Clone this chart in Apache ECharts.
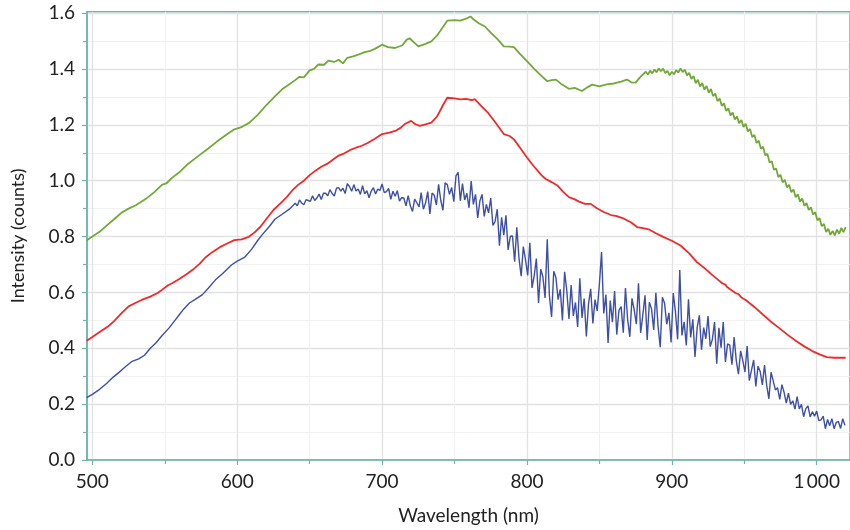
<!DOCTYPE html>
<html>
<head>
<meta charset="utf-8">
<script src="https://cdn.jsdelivr.net/npm/echarts@6/dist/echarts.min.js"></script>
<style>html,body{margin:0;padding:0;background:#fff;}#c{width:850px;height:530px;}</style>
</head>
<body>
<div id="c"></div>
<script>
// ---- data ----
var xMajorTicks = [500, 600, 700, 800, 900, 1000];
var xMinorTicks = [550, 650, 750, 850, 950];
var yMajorTicks = [0, 0.2, 0.4, 0.6, 0.8, 1.0, 1.2, 1.4, 1.6];
var yMinorTicks = [0.1, 0.3, 0.5, 0.7, 0.9, 1.1, 1.3, 1.5];

var greenSmooth = [[496,0.786],[500,0.80],[505,0.817],[510,0.84],[515,0.862],[520,0.885],[525,0.90],[530,0.912],[537,0.935],[543,0.96],[548,0.985],[551,0.99],[555,1.01],[560,1.03],[566,1.06],[573,1.088],[580,1.115],[586,1.14],[592,1.163],[598,1.184],[603,1.192],[608,1.206],[614,1.235],[620,1.27],[626,1.302],[631,1.327],[636,1.345],[640,1.36],[643,1.372],[646,1.37],[650,1.395],[653,1.40],[656,1.416],[660,1.415],[663,1.43],[667,1.425],[670,1.433],[673,1.42],[676,1.44],[680,1.445],[684,1.452],[688,1.46],[692,1.465],[695,1.472],[700,1.487],[704,1.478],[709,1.475],[714,1.485],[717,1.505],[719,1.51],[722,1.495],[725,1.481],[730,1.49],[734,1.499],[738,1.52],[742,1.55],[745,1.573],[750,1.575],[754,1.573],[758,1.58],[761,1.588],[763,1.578],[767,1.563],[771,1.552],[775,1.53],[780,1.505],[784,1.481],[788,1.48],[791,1.478],[795,1.455],[800,1.428],[805,1.40],[810,1.375],[814,1.356],[817,1.36],[820,1.362],[824,1.345],[829,1.329],[833,1.332],[838,1.321],[842,1.335],[845,1.344],[850,1.338],[855,1.345],[860,1.348],[865,1.355],[869,1.362],[872,1.352],[875,1.351],[878,1.37]];
var greenOscStart = 882, greenOscStep = 1.5;
var greenOsc = [1.390,1.380,1.394,1.384,1.398,1.388,1.402,1.392,1.401,1.385,1.393,1.377,1.390,1.381,1.396,1.387,1.402,1.389,1.397,1.377,1.386,1.364,1.375,1.349,1.361,1.337,1.350,1.326,1.339,1.315,1.328,1.303,1.312,1.285,1.294,1.268,1.277,1.250,1.259,1.233,1.244,1.219,1.230,1.206,1.217,1.192,1.204,1.176,1.185,1.156,1.164,1.135,1.143,1.114,1.122,1.091,1.096,1.065,1.070,1.039,1.044,1.013,1.021,0.994,1.003,0.976,0.985,0.959,0.968,0.941,0.951,0.925,0.936,0.910,0.920,0.895,0.905,0.879,0.887,0.858,0.866,0.837,0.845,0.816,0.828,0.806,0.820,0.804,0.825,0.810,0.831,0.816,0.834];

var redPts = [[496,0.427],[500,0.44],[505,0.458],[511,0.479],[515,0.497],[520,0.525],[525,0.55],[530,0.563],[534,0.573],[540,0.585],[545,0.598],[548,0.609],[552,0.625],[555,0.633],[560,0.648],[565,0.665],[569,0.68],[574,0.702],[578,0.725],[583,0.745],[588,0.762],[593,0.775],[598,0.787],[603,0.79],[608,0.799],[612,0.815],[616,0.835],[620,0.862],[625,0.895],[630,0.92],[634,0.94],[638,0.965],[642,0.985],[646,1.0],[650,1.02],[654,1.036],[658,1.05],[662,1.06],[666,1.075],[670,1.09],[674,1.098],[678,1.11],[682,1.118],[686,1.125],[690,1.135],[695,1.15],[700,1.167],[705,1.172],[709,1.178],[713,1.19],[716,1.204],[720,1.214],[723,1.202],[726,1.196],[730,1.202],[734,1.208],[738,1.23],[742,1.27],[745,1.297],[750,1.295],[754,1.291],[758,1.293],[762,1.288],[764,1.292],[768,1.27],[773,1.244],[778,1.21],[784,1.167],[788,1.16],[791,1.148],[795,1.12],[800,1.083],[805,1.05],[810,1.02],[813,1.006],[817,0.995],[821,0.983],[825,0.96],[829,0.941],[833,0.933],[836,0.925],[840,0.917],[844,0.917],[848,0.902],[853,0.888],[858,0.877],[862,0.873],[867,0.864],[872,0.85],[876,0.834],[880,0.83],[884,0.826],[889,0.812],[894,0.799],[900,0.785],[906,0.768],[912,0.74],[917,0.71],[923,0.685],[928,0.662],[932,0.645],[935,0.632],[937,0.628],[938,0.62],[940,0.612],[942,0.605],[944,0.598],[946,0.594],[948,0.582],[951,0.573],[957,0.548],[963,0.52],[968,0.497],[974,0.473],[980,0.448],[986,0.425],[992,0.405],[997,0.39],[1002,0.378],[1007,0.368],[1012,0.366],[1020,0.366]];

var blueSmooth = [[496,0.223],[500,0.235],[505,0.253],[510,0.275],[514,0.295],[518,0.312],[522,0.33],[527,0.352],[532,0.362],[536,0.375],[540,0.40],[544,0.42],[548,0.445],[553,0.473],[557,0.50],[560,0.52],[563,0.54],[567,0.562],[571,0.575],[576,0.592],[580,0.615],[585,0.645],[590,0.668],[596,0.698],[600,0.712],[605,0.725],[610,0.755],[614,0.785],[617,0.805],[622,0.835],[626,0.862],[631,0.88],[636,0.898]];
var blueNoisyStart = 640, blueNoisyStep = 1.5;
var blueNoisy = [
0.919,0.910,0.931,0.920,0.914,0.932,0.929,0.926,0.946,0.929,
0.938,0.952,0.933,0.955,0.955,0.946,0.968,0.954,0.945,0.973,
0.975,0.963,0.973,0.954,0.989,0.979,0.962,0.986,0.963,0.970,
0.951,0.982,0.953,0.964,0.939,0.963,0.975,0.952,0.970,0.965,
0.988,0.957,0.961,0.972,0.933,0.962,0.944,0.964,0.927,0.939,
0.938,0.910,0.946,0.910,0.890,0.934,0.921,0.906,0.957,0.898,
0.920,0.961,0.881,0.956,0.948,0.913,0.987,0.930,0.894,0.992,
0.986,0.951,0.976,0.925,1.017,1.030,0.928,0.990,0.931,0.955,
0.903,0.999,0.915,0.951,0.867,0.927,0.951,0.872,0.915,0.885,
0.938,0.840,0.854,0.898,0.767,0.869,0.805,0.876,0.752,0.801,
0.802,0.710,0.833,0.723,0.658,0.764,0.717,0.661,0.778,0.616,
0.660,0.721,0.562,0.683,0.656,0.580,0.790,0.588,0.512,0.676,
0.653,0.574,0.611,0.500,0.674,0.606,0.505,0.626,0.516,0.564,
0.476,0.651,0.509,0.578,0.442,0.559,0.613,0.489,0.574,0.534,
0.629,0.745,0.525,0.592,0.419,0.571,0.493,0.605,0.449,0.536,
0.549,0.456,0.616,0.503,0.441,0.579,0.538,0.486,0.633,0.455,
0.520,0.590,0.430,0.565,0.541,0.466,0.599,0.479,0.404,0.583,
0.561,0.486,0.527,0.421,0.598,0.531,0.432,0.680,0.446,0.495,
0.410,0.575,0.439,0.504,0.369,0.474,0.518,0.395,0.474,0.434,
0.515,0.406,0.432,0.494,0.345,0.473,0.402,0.494,0.351,0.416,
0.411,0.341,0.440,0.356,0.307,0.391,0.356,0.315,0.408,0.284,
0.322,0.358,0.263,0.336,0.317,0.269,0.340,0.267,0.219,0.314,
0.283,0.251,0.259,0.217,0.270,0.242,0.204,0.239,0.199,0.212,
0.182,0.227,0.183,0.199,0.155,0.184,0.194,0.154,0.173,0.157,
0.175,0.141,0.144,0.157,0.112,0.145,0.123,0.148,0.112,0.134,
0.138,0.113,0.148,0.124];

// ---- build ----
function seq(start, step, vals) {
  return vals.map(function (v, i) { return [+(start + i * step).toFixed(2), v]; });
}
var greenData = greenSmooth.concat(seq(greenOscStart, greenOscStep, greenOsc));
var blueData = blueSmooth.concat(seq(blueNoisyStart, blueNoisyStep, blueNoisy));

var teal = '#6db3ae';
var font = 'Lato';
var chart = echarts.init(document.getElementById('c'), null, {renderer: 'canvas'});
chart.setOption({
  animation: false,
  backgroundColor: '#ffffff',
  grid: {left: 87, top: 11.7, right: -3, bottom: 67.2, show: true, borderColor: teal, borderWidth: 1.5, backgroundColor: 'transparent'},
  xAxis: [{
    type: 'value', min: 496.3, max: 1023, position: 'bottom',
    name: 'Wavelength (nm)', nameLocation: 'middle', nameGap: 46,
    nameTextStyle: {fontFamily: font, fontSize: 19, color: '#222'},
    axisLine: {show: true, onZero: false, lineStyle: {color: teal, width: 1.5}},
    axisTick: {show: true, customValues: xMajorTicks, length: 5, lineStyle: {color: teal, width: 1.2}},
    axisLabel: {customValues: xMajorTicks, margin: 12, fontFamily: font, fontSize: 19, color: '#222',
      formatter: function (v) { return v === 1000 ? '1\u2009000' : String(v); }},
    splitLine: {show: true, lineStyle: {color: '#e2e2e2', width: 1.3}}
  }, {
    type: 'value', min: 496.3, max: 1023, position: 'bottom',
    axisLine: {show: false},
    axisTick: {show: true, customValues: xMinorTicks, length: 4, lineStyle: {color: teal, width: 1.2}},
    axisLabel: {show: false, customValues: xMinorTicks},
    splitLine: {show: true, lineStyle: {color: '#f1f1f1', width: 1}}
  }],
  yAxis: [{
    type: 'value', min: 0, max: 1.605, position: 'left',
    name: 'Intensity (counts)', nameLocation: 'middle', nameGap: 60, nameRotate: 90,
    nameTextStyle: {fontFamily: font, fontSize: 18, color: '#222'},
    axisLine: {show: true, lineStyle: {color: teal, width: 1.5}},
    axisTick: {show: true, customValues: yMajorTicks, length: 5, lineStyle: {color: teal, width: 1.2}},
    axisLabel: {customValues: yMajorTicks, margin: 12, fontFamily: font, fontSize: 19, color: '#222',
      formatter: function (v) { return v.toFixed(1); }},
    splitLine: {show: true, lineStyle: {color: '#e2e2e2', width: 1.3}}
  }, {
    type: 'value', min: 0, max: 1.605, position: 'left',
    axisLine: {show: false},
    axisTick: {show: true, customValues: yMinorTicks, length: 4, lineStyle: {color: teal, width: 1.2}},
    axisLabel: {show: false, customValues: yMinorTicks},
    splitLine: {show: true, lineStyle: {color: '#f1f1f1', width: 1}}
  }],
  series: [
    {type: 'line', name: 'green', data: greenData, xAxisIndex: 0, yAxisIndex: 0, showSymbol: false, symbol: 'none',
      lineStyle: {color: '#72a838', width: 1.8}, z: 3},
    {type: 'line', name: 'red', data: redPts, xAxisIndex: 0, yAxisIndex: 0, showSymbol: false, symbol: 'none',
      lineStyle: {color: '#ee2a2a', width: 1.8}, z: 3},
    {type: 'line', name: 'blue', data: blueData, xAxisIndex: 0, yAxisIndex: 0, showSymbol: false, symbol: 'none',
      lineStyle: {color: '#3e4fa6', width: 1.4}, z: 3}
  ]
});
</script>
</body>
</html>
